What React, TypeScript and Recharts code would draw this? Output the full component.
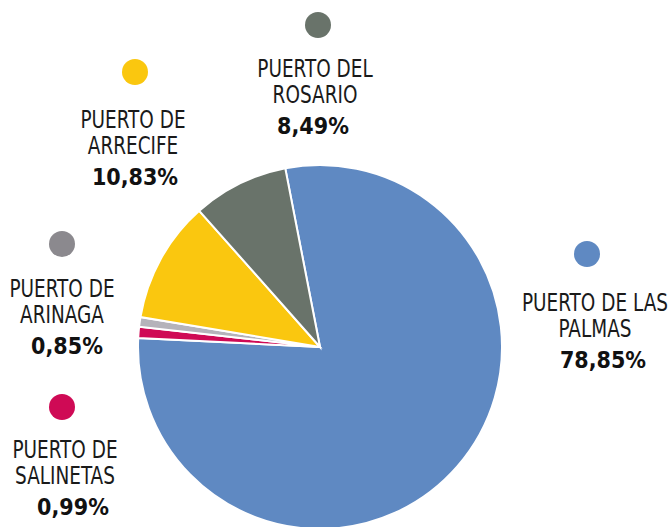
import React from "react";
import { PieChart, Pie, Cell } from "recharts";

const ports = ["PUERTO DE LAS PALMAS", "PUERTO DE SALINETAS", "PUERTO DE ARINAGA", "PUERTO DE ARRECIFE", "PUERTO DEL ROSARIO"];
const shares = [78.85, 0.99, 0.85, 10.83, 8.49];
const labelLines = [
  ["PUERTO DE LAS", "PALMAS"],
  ["PUERTO DE", "SALINETAS"],
  ["PUERTO DE", "ARINAGA"],
  ["PUERTO DE", "ARRECIFE"],
  ["PUERTO DEL", "ROSARIO"],
];

const sliceColors = ["#5F89C2", "#CF0A55", "#B5B3BA", "#FAC70F", "#69736A"];
const dotColors = ["#5F89C2", "#CF0A55", "#8B898E", "#FAC70F", "#69736A"];

// label layout (dot centre, text centre x, first baseline y, pct centre x)
const labelLayout = [
  { dx: 587, dy: 254, tx: 595, ty: 311, px: 603 },
  { dx: 62, dy: 407, tx: 65, ty: 458, px: 73 },
  { dx: 62, dy: 244, tx: 62, ty: 297, px: 67 },
  { dx: 135, dy: 72, tx: 133, ty: 128, px: 135 },
  { dx: 318, dy: 25, tx: 315, ty: 77, px: 313 },
];

const data = ports.map((name, i) => ({ name, value: shares[i] }));

const FONT = "'DejaVu Sans Condensed', 'DejaVu Sans', sans-serif";

const fmt = (v: number) => v.toFixed(2).replace(".", ",") + "%";

const renderLabel = (props: any) => {
  const i = props.index;
  const L = labelLayout[i];
  const lines = labelLines[i];
  return (
    <g key={"lbl" + i}>
      <circle cx={L.dx} cy={L.dy} r={13} fill={dotColors[i]} />
      {lines.map((t, k) => (
        <g key={k} transform={`translate(${L.tx},${L.ty + k * 26}) scale(0.82,1)`}>
          <text x={0} y={0} textAnchor="middle" fontFamily={FONT} fontSize={25} fill="#1a1a1a">
            {t}
          </text>
        </g>
      ))}
      <text x={L.px} y={L.ty + 2 * 26 + 5} textAnchor="middle" fontFamily={FONT} fontSize={23} fontWeight="bold" fill="#111">
        {fmt(shares[i])}
      </text>
    </g>
  );
};

export default function App() {
  return (
    <div style={{ position: "absolute", left: 0, top: 0, width: 670, height: 527, background: "#fff" }}>
      <PieChart width={670} height={527} margin={{ top: 0, right: 0, bottom: 0, left: 0 }}>
        <Pie
          data={data}
          dataKey="value"
          nameKey="name"
          cx={320}
          cy={347}
          outerRadius={182}
          startAngle={101}
          endAngle={-259}
          stroke="#fff"
          strokeWidth={2}
          label={renderLabel}
          labelLine={false}
          isAnimationActive={false}
        >
          {data.map((d, i) => (
            <Cell key={d.name} fill={sliceColors[i]} />
          ))}
        </Pie>
      </PieChart>
    </div>
  );
}
